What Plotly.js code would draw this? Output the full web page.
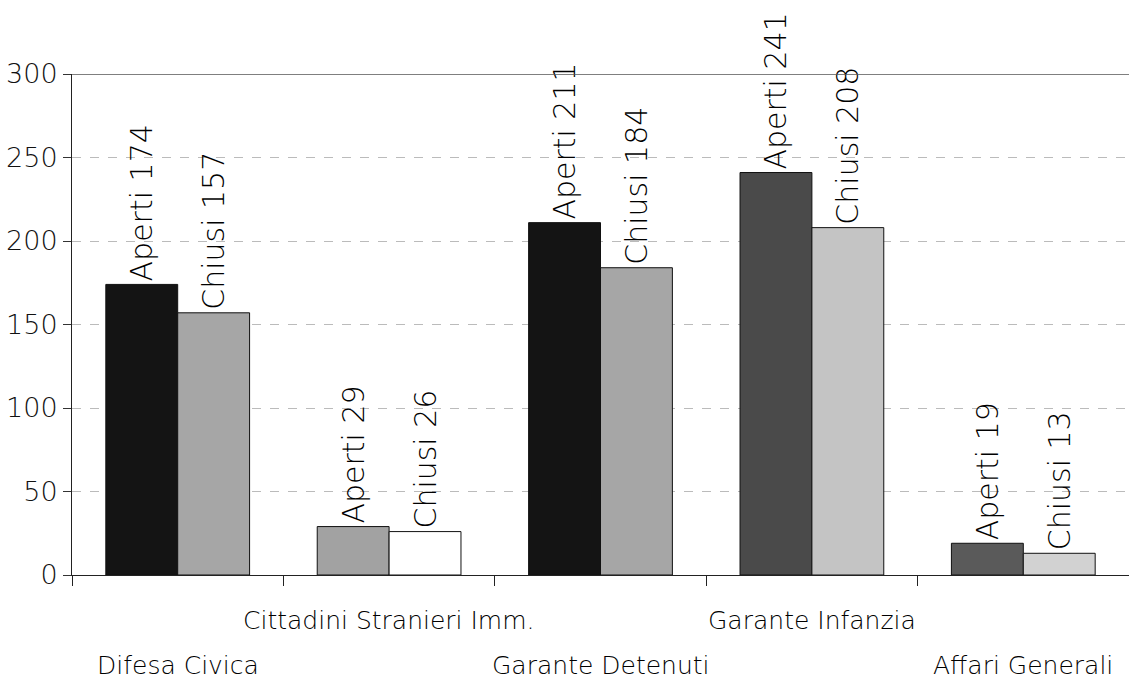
<!DOCTYPE html>
<html>
<head>
<meta charset="utf-8">
<script src="https://cdn.plot.ly/plotly-3.0.1.min.js"></script>
<style>html,body{margin:0;padding:0;background:#fff;}#chart{width:1129px;height:688px;}</style>
</head>
<body>
<div id="chart"></div>
<script>
// Data
const categories = ["Difesa Civica", "Cittadini Stranieri Imm.", "Garante Detenuti", "Garante Infanzia", "Affari Generali"];
const aperti = [174, 29, 211, 241, 19];
const chiusi = [157, 26, 184, 208, 13];
const yTicks = [0, 50, 100, 150, 200, 250, 300];

// Styles
const apertiColors = ["#141414", "#a2a2a2", "#141414", "#4a4a4a", "#5a5a5a"];
const chiusiColors = ["#a6a6a6", "#ffffff", "#a6a6a6", "#c4c4c4", "#d2d2d2"];
const labelRow = [1, 0, 1, 0, 1]; // 0 = upper row, 1 = lower row
const FONT = "DejaVu Sans, Noto Sans, sans-serif";

const common = {
  type: "bar",
  x: categories,
  textposition: "outside",
  textangle: -90,
  cliponaxis: false,
  constraintext: "none",
  textfont: {family: FONT, size: 30, weight: 200, color: "#000"},
  hoverinfo: "skip"
};

const traces = [
  Object.assign({}, common, {
    name: "Aperti",
    y: aperti,
    text: aperti.map(v => "Aperti " + v),
    marker: {color: apertiColors, line: {color: "#111", width: 1}}
  }),
  Object.assign({}, common, {
    name: "Chiusi",
    y: chiusi,
    text: chiusi.map(v => "Chiusi " + v),
    marker: {color: chiusiColors, line: {color: "#111", width: 1}}
  })
];

const annotations = categories.map((c, i) => ({
  x: c, y: 0, xref: "x", yref: "y",
  text: c, showarrow: false,
  yanchor: "middle", xanchor: "center",
  yshift: labelRow[i] ? -90 : -45,
  font: {family: FONT, size: 25, weight: 200, color: "#000"}
}));

const layout = {
  width: 1129, height: 688,
  margin: {l: 72, r: 0, t: 74, b: 113},
  paper_bgcolor: "#fff", plot_bgcolor: "#fff",
  showlegend: false,
  barmode: "group",
  bargap: 0.32, bargroupgap: 0,
  font: {family: FONT, color: "#000"},
  xaxis: {
    type: "category",
    showticklabels: false,
    ticks: "outside", tickson: "boundaries", ticklen: 10, tickcolor: "#222", tickwidth: 1,
    showline: true, linecolor: "#222", linewidth: 1,
    showgrid: false, zeroline: false
  },
  yaxis: {
    range: [0, 300],
    tickvals: yTicks,
    ticktext: yTicks.map(String),
    ticks: "outside", ticklen: 8, tickcolor: "#333",
    tickfont: {family: FONT, size: 27, weight: 200, color: "#111"},
    showline: true, linecolor: "#222", linewidth: 1,
    showgrid: true, gridcolor: "#bbbbbb", griddash: "dash", gridwidth: 1,
    zeroline: false
  },
  shapes: [{
    type: "line", xref: "paper", yref: "y", x0: 0, x1: 1, y0: 300, y1: 300,
    line: {color: "#555", width: 1.5}
  }],
  annotations: annotations
};

Plotly.newPlot("chart", traces, layout, {displayModeBar: false, staticPlot: true});
</script>
</body>
</html>
